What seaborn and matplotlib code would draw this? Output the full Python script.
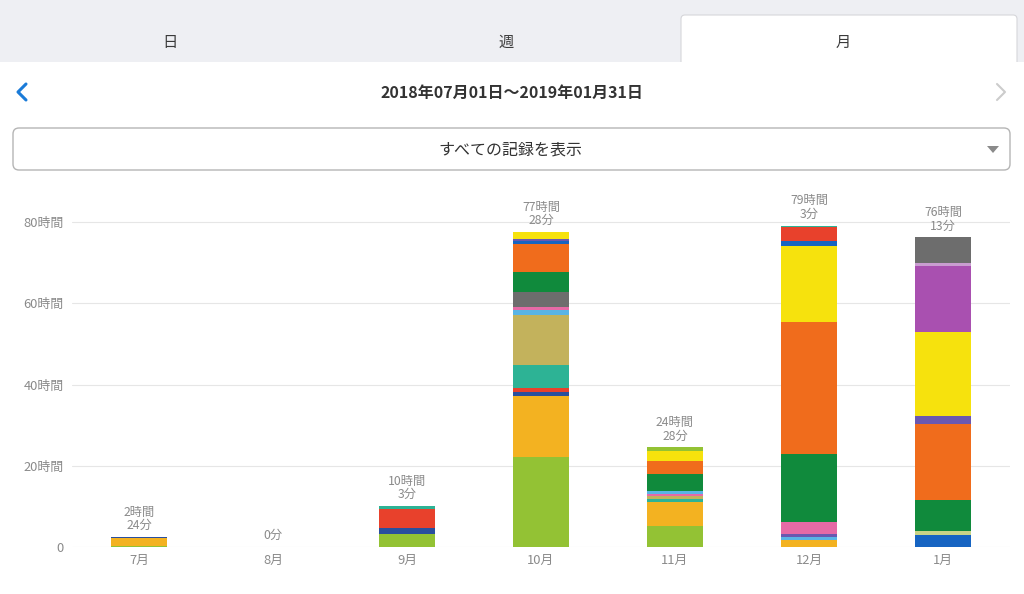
import numpy as np
import seaborn as sns
import matplotlib.pyplot as plt
from matplotlib.patches import Rectangle, FancyBboxPatch, Polygon

# -----------------------------
# Data (hours per record, stacked bottom -> top)
# -----------------------------
months = ["7月", "8月", "9月", "10月", "11月", "12月", "1月"]
total_minutes = [144, 0, 603, 4648, 1468, 4743, 4573]

LIME, AMBER, NAVY, RED = "#93c234", "#f3b221", "#2a4f9e", "#e8412c"
TEAL, KHAKI, SKY, PINK = "#2db395", "#c3b25c", "#5ab4e5", "#e66aa6"
GRAY, GREEN, ORANGE, VIOLET = "#6d6d6d", "#108a3c", "#f06c1c", "#6a58b0"
YELLOW, PURPLE, BLUE, LILAC, PALE = "#f6e20d", "#a950b0", "#1664c2", "#c99dd0", "#c9d486"

jul_hours = [0.3, 1.95, 0.1, 0.05]
jul_colors = [LIME, AMBER, NAVY, TEAL]
aug_hours = []
aug_colors = []
sep_hours = [3.2, 1.5, 4.7, 0.65]
sep_colors = [LIME, NAVY, RED, TEAL]
oct_hours = [22.2, 15.0, 1.0, 1.0, 5.6, 12.3, 1.2, 0.7, 3.8, 4.9, 7.0, 0.6, 0.6, 1.6]
oct_colors = [LIME, AMBER, NAVY, RED, TEAL, KHAKI, SKY, PINK, GRAY, GREEN, ORANGE, BLUE, VIOLET, YELLOW]
nov_hours = [5.2, 6.0, 0.7, 0.6, 0.6, 0.8, 4.1, 3.1, 2.6, 0.8]
nov_colors = [LIME, AMBER, TEAL, KHAKI, PINK, SKY, GREEN, ORANGE, YELLOW, LIME]
dec_hours = [1.7, 0.8, 0.6, 3.1, 16.8, 32.3, 18.9, 1.2, 3.3, 0.4]
dec_colors = [AMBER, SKY, VIOLET, PINK, GREEN, ORANGE, YELLOW, BLUE, RED, TEAL]
jan_hours = [3.0, 1.0, 7.6, 18.6, 2.0, 20.8, 16.2, 0.8, 6.2]
jan_colors = [BLUE, PALE, GREEN, ORANGE, VIOLET, YELLOW, PURPLE, LILAC, GRAY]

segments = [(jul_hours, jul_colors), (aug_hours, aug_colors), (sep_hours, sep_colors),
            (oct_hours, oct_colors), (nov_hours, nov_colors), (dec_hours, dec_colors),
            (jan_hours, jan_colors)]

y_ticks = [0, 20, 40, 60, 80]
y_tick_labels = ["0", "20時間", "40時間", "60時間", "80時間"]

# -----------------------------
# Style
# -----------------------------
sns.set_theme(style="white")
plt.rcParams["font.family"] = ["Noto Sans CJK JP", "DejaVu Sans"]

fig = plt.figure(figsize=(10.24, 5.94), dpi=100)
fig.patch.set_facecolor("white")

# ---- UI chrome (pixel coordinates)
bg = fig.add_axes([0, 0, 1, 1], zorder=0)
bg.set_xlim(0, 1024)
bg.set_ylim(594, 0)
bg.axis("off")

bg.add_patch(Rectangle((0, 0), 1024, 62, facecolor="#eeeff3", edgecolor="none"))
bg.add_patch(FancyBboxPatch((681, 15), 336, 60, boxstyle="round,pad=0,rounding_size=4",
                            facecolor="white", edgecolor="#d6d6da", lw=0.8))
bg.add_patch(Rectangle((678, 62), 345, 20, facecolor="white", edgecolor="none"))
for x, lab in zip([170, 506, 843], ["日", "週", "月"]):
    bg.text(x, 42, lab, ha="center", va="center", fontsize=11, color="#3a3a3a")

bg.text(512, 93, "2018年07月01日〜2019年01月31日", ha="center", va="center",
        fontsize=11.5, color="#333333", fontweight="bold")
bg.plot([26, 18, 26], [84, 92, 100], color="#1a7bd8", lw=2.2, solid_capstyle="round")
bg.plot([997, 1005, 997], [84, 92, 100], color="#cccccc", lw=1.5, solid_capstyle="round")

bg.add_patch(FancyBboxPatch((13, 128), 997, 42, boxstyle="round,pad=0,rounding_size=6",
                            facecolor="white", edgecolor="#b5b5b5", lw=1.0))
bg.text(510, 150, "すべての記録を表示", ha="center", va="center", fontsize=11.5, color="#333333")
bg.add_patch(Polygon([(987, 146), (999, 146), (993, 153)], closed=True,
                     facecolor="#8a8a8a", edgecolor="none"))

# ---- Chart
ymax = 82
top_px = 547 - ymax * 325 / 80
ax = fig.add_axes([72 / 1024, 1 - 547 / 594, (1010 - 72) / 1024, (547 - top_px) / 594], zorder=1)
ax.patch.set_alpha(0)

x = np.arange(len(months))
for i, (hours, colors) in enumerate(segments):
    bottom = 0.0
    for h, c in zip(hours, colors):
        ax.bar(x[i], h, bottom=bottom, width=0.42, color=c, edgecolor="none", zorder=3)
        bottom += h
    mins = total_minutes[i]
    label = f"{mins // 60}時間\n{mins % 60}分" if mins >= 60 else f"{mins}分"
    ax.annotate(label, (x[i], bottom), xytext=(0, 3.5), textcoords="offset points",
                ha="center", va="bottom", fontsize=8.8, color="#8a8a8a",
                linespacing=1.05, annotation_clip=False)

ax.set_xlim(-0.5, len(months) - 0.5)
ax.set_ylim(0, ymax)
ax.set_yticks(y_ticks)
ax.set_yticklabels(y_tick_labels)
ax.set_xticks(x)
ax.set_xticklabels(months)
ax.tick_params(axis="both", length=0, labelsize=9.3, colors="#8a8a8a")
ax.tick_params(axis="y", pad=6)
ax.tick_params(axis="x", pad=5)
for t in y_ticks:
    ax.axhline(t, color="#e6e6e6", lw=0.8, zorder=1)
for s in ax.spines.values():
    s.set_visible(False)

fig.savefig("out.png", dpi=100)
